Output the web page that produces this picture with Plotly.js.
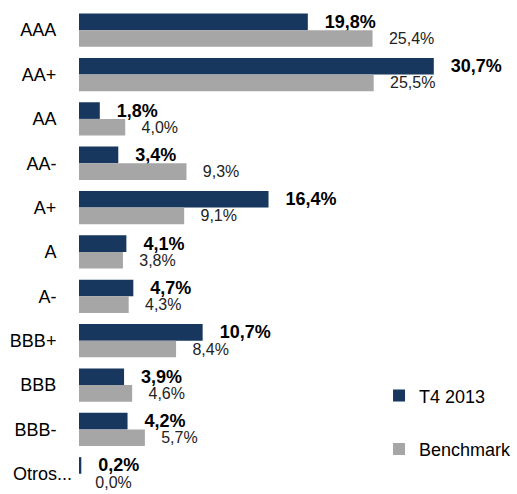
<!DOCTYPE html>
<html><head><meta charset="utf-8">
<script src="https://cdn.plot.ly/plotly-3.0.1.min.js"></script>
<style>html,body{margin:0;padding:0;background:#fff}#chart{width:517px;height:494px}</style>
</head><body><div id="chart"></div>
<script>
const categories = ["AAA","AA+","AA","AA-","A+","A","A-","BBB+","BBB","BBB-","Otros..."];
const t4_2013 = [19.8,30.7,1.8,3.4,16.4,4.1,4.7,10.7,3.9,4.2,0.2];
const benchmark = [25.4,25.5,4.0,9.3,9.1,3.8,4.3,8.4,4.6,5.7,0.0];
const seriesNames = ["T4 2013","Benchmark"];

const font = "Liberation Sans, Arial, sans-serif";
const lastCat = categories[categories.length-1];
const tickText = categories.map(c => c === lastCat ? '' : c);

const traces = [
  {type:'bar', orientation:'h', name:seriesNames[0], y:categories, x:t4_2013,
   marker:{color:'#17375E'}, legendgroup:'a',
   texttemplate:'\u2002\u00a0%{x:.1f}%', textposition:'outside', cliponaxis:false, constraintext:'none',
   textfont:{family:font, size:18, color:'#000', weight:'bold'}, hoverinfo:'x+y'},
  {type:'bar', orientation:'h', name:seriesNames[1], y:categories, x:benchmark,
   marker:{color:'#A6A6A6'}, legendgroup:'b',
   texttemplate:'\u00a0\u00a0\u00a0%{x:.1f}%', textposition:'outside', cliponaxis:false, constraintext:'none',
   textfont:{family:font, size:16, color:'#222'}, hoverinfo:'x+y'}
];
const layout = {
  width:517, height:494, separators:',.',
  margin:{l:79, r:0, t:8, b:0, autoexpand:false},
  barmode:'group', bargap:0.25, bargroupgap:0,
  paper_bgcolor:'#fff', plot_bgcolor:'#fff',
  font:{family:font, size:18, color:'#000'},
  xaxis:{range:[0,37.9], showticklabels:false, showgrid:false, zeroline:false, showline:false, fixedrange:true},
  yaxis:{type:'category', range:[10.456,-0.5], showgrid:false, zeroline:false, showline:false,
         tickmode:'array', tickvals:categories, ticktext:tickText,
         ticks:'outside', ticklen:18, tickcolor:'rgba(0,0,0,0)', tickfont:{family:font,size:18,color:'#000'}},
  annotations:[{x:0, y:lastCat, xref:'x', yref:'y', text:lastCat, showarrow:false,
                xanchor:'right', xshift:-5, font:{family:font,size:18,color:'#000'}}],
  showlegend:true,
  legend:{x:0.685, xanchor:'left', y:0.24, yanchor:'top', traceorder:'grouped', tracegroupgap:27,
          font:{family:font,size:18,color:'#000'}, bgcolor:'rgba(0,0,0,0)'}
};
Plotly.newPlot('chart', traces, layout, {displayModeBar:false, staticPlot:true});
</script></body></html>
